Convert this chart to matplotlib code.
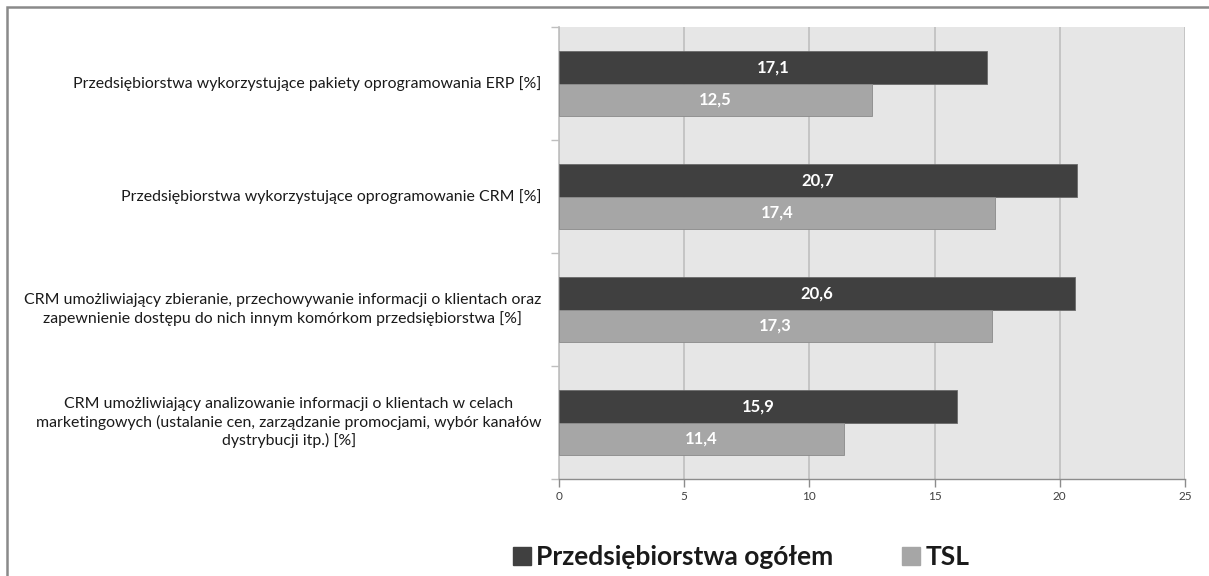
import matplotlib
matplotlib.use("Agg")
import matplotlib.pyplot as plt
from matplotlib.patches import Rectangle
from matplotlib.ticker import FixedLocator
import numpy as np

categories = [
    "Przedsiębiorstwa wykorzystujące pakiety oprogramowania ERP [%]",
    "Przedsiębiorstwa wykorzystujące oprogramowanie CRM [%]",
    "CRM umożliwiający zbieranie, przechowywanie informacji o klientach oraz\nzapewnienie dostępu do nich innym komórkom przedsiębiorstwa [%]",
    "CRM umożliwiający analizowanie informacji o klientach w celach\nmarketingowych (ustalanie cen, zarządzanie promocjami, wybór kanałów\ndystrybucji itp.) [%]",
]
ogolem = [17.1, 20.7, 20.6, 15.9]
tsl = [12.5, 17.4, 17.3, 11.4]
series_names = ["Przedsiębiorstwa ogółem", "TSL"]
xticks = [0, 5, 10, 15, 20, 25]

plt.rcParams['font.family'] = ['Lato', 'DejaVu Sans']

fig = plt.figure(figsize=(12.09, 5.76), dpi=100)
ax = fig.add_axes([559/1209, 1-479/576, (1185-559)/1209, (479-27)/576])

dark = '#404040'
light = '#a6a6a6'
y = np.arange(len(categories))
h = 0.2875
b1 = ax.barh(y - h/2, ogolem, height=h, color=dark, edgecolor='#6a6a6a', linewidth=0.6, zorder=3)
b2 = ax.barh(y + h/2, tsl, height=h, color=light, edgecolor='#8a8a8a', linewidth=0.6, zorder=3)

for bars, vals in ((b1, ogolem), (b2, tsl)):
    for bar, v in zip(bars, vals):
        ax.text(bar.get_width()/2, bar.get_y() + bar.get_height()/2,
                f"{v:.1f}".replace('.', ','), ha='center', va='center',
                color='white', fontsize=12, fontweight='bold', zorder=4)

ax.set_xlim(0, 25)
ax.set_ylim(len(categories) - 0.5, -0.5)
ax.set_facecolor('#e6e6e6')
ax.set_xticks(xticks)
ax.set_xticklabels([str(t) for t in xticks], fontsize=8.5, color='#404040')
ax.xaxis.grid(True, color='#bfbfbf', linewidth=1.2, zorder=0)
ax.set_axisbelow(True)

ax.set_yticks(y)
ax.set_yticklabels([])
ax.tick_params(axis='y', length=0)
ax.yaxis.set_minor_locator(FixedLocator(np.arange(-0.5, len(categories), 1.0)))
ax.tick_params(axis='y', which='minor', length=6, color='#bfbfbf', width=1)
ax.tick_params(axis='x', length=6, color='#8c8c8c', width=1, pad=3)

for i, c in enumerate(categories):
    ax.text(-0.028, i, c, transform=ax.get_yaxis_transform(), ha='right', va='center',
            multialignment='center', fontsize=11.4, color='#1a1a1a', linespacing=1.3)

for s in ('top', 'right'):
    ax.spines[s].set_visible(False)
ax.spines['left'].set_color('#bfbfbf')
ax.spines['left'].set_linewidth(1.2)
ax.spines['bottom'].set_color('#8c8c8c')
ax.spines['bottom'].set_linewidth(1)

handles = [Rectangle((0, 0), 1, 1, color=dark), Rectangle((0, 0), 1, 1, color=light)]
leg = fig.legend(handles, series_names, loc='center', bbox_to_anchor=(741/1209, 1-557/576),
                 ncol=2, frameon=False, handlelength=0.68, handleheight=0.68,
                 handletextpad=0.2, columnspacing=2.6,
                 prop={'family': ['Lato', 'DejaVu Sans'], 'weight': 'bold', 'size': 19})
for t in leg.get_texts():
    t.set_color('#1a1a1a')

frame = Rectangle((7/1209, -0.1), 1.2, 1 - 7/576 + 0.1, transform=fig.transFigure,
                  fill=False, edgecolor='#8a8a8a', linewidth=1.8, zorder=10)
fig.add_artist(frame)

fig.savefig('out.png', dpi=100, facecolor='white')
